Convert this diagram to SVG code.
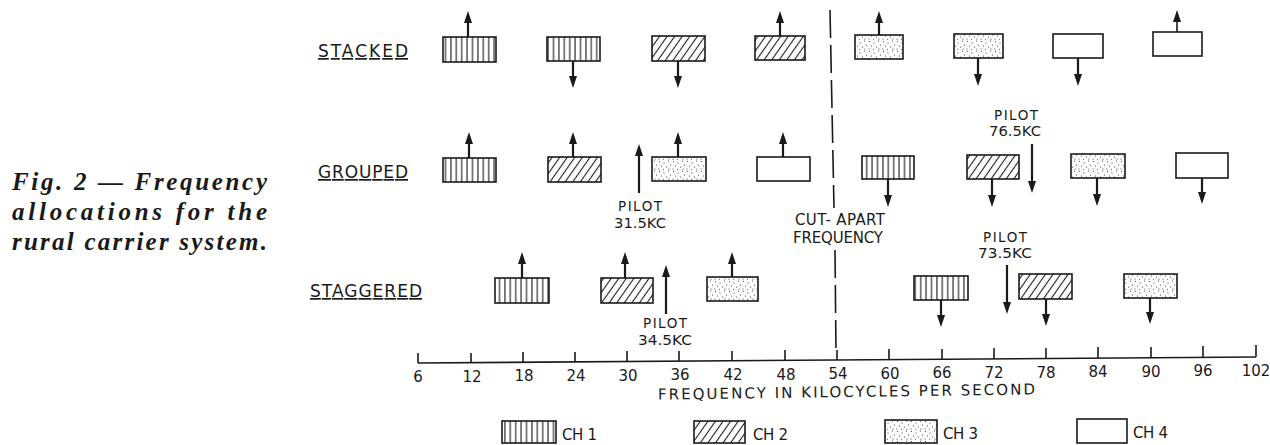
<svg xmlns="http://www.w3.org/2000/svg" width="1270" height="445" viewBox="0 0 1270 445">
<style>
.bg{fill:#fff}
.box{stroke:#1a1a1a;stroke-width:1.6}
.c1{fill:url(#p1)}
.c2{fill:url(#p2)}
.c3{fill:url(#p3)}
.c4{fill:#fff}
.arr{stroke:#1a1a1a;stroke-width:2.2;fill:none;marker-end:url(#ah)}
.dash{stroke:#1a1a1a;stroke-width:1.6;stroke-dasharray:28 7;fill:none}
.ax{stroke:#1a1a1a;stroke-width:1.6;fill:none}
.lbl{font-family:"DejaVu Sans","Liberation Sans",sans-serif;font-size:15px;fill:#1a1a1a}
.pil{font-family:"DejaVu Sans","Liberation Sans",sans-serif;font-size:13.5px;fill:#1a1a1a;text-anchor:middle}
.num{font-family:"DejaVu Sans","Liberation Sans",sans-serif;font-size:15px;fill:#1a1a1a;text-anchor:middle}
.mid{text-anchor:middle}
.row{font-family:"DejaVu Sans","Liberation Sans",sans-serif;font-size:17px;fill:#1a1a1a;text-decoration:underline}
.cap{font-family:"Liberation Serif","Times New Roman",serif;font-style:italic;font-weight:bold;font-size:25px;fill:#1a1a1a}
</style>
<defs>
<pattern id="p1" patternUnits="userSpaceOnUse" width="5.4" height="10">
<rect width="5.4" height="10" fill="#fff"/>
<line x1="2.7" y1="0" x2="2.7" y2="10" stroke="#1a1a1a" stroke-width="1.1"/>
</pattern>
<pattern id="p2" patternUnits="userSpaceOnUse" width="6.2" height="10" patternTransform="rotate(35)">
<rect width="6.2" height="10" fill="#fff"/>
<line x1="3.1" y1="0" x2="3.1" y2="10" stroke="#1a1a1a" stroke-width="1.1"/>
</pattern>
<pattern id="p3" patternUnits="userSpaceOnUse" width="14" height="10">
<rect width="14" height="10" fill="#fff"/>
<g fill="#333">
<circle cx="1.5" cy="1.5" r="0.6"/><circle cx="6" cy="3" r="0.6"/><circle cx="10.5" cy="1" r="0.6"/>
<circle cx="3.5" cy="6" r="0.6"/><circle cx="8.5" cy="7" r="0.6"/><circle cx="12.5" cy="5" r="0.6"/>
<circle cx="1" cy="9" r="0.6"/><circle cx="11" cy="9" r="0.6"/><circle cx="5.5" cy="9.3" r="0.5"/>
</g>
</pattern>
<marker id="ah" markerUnits="userSpaceOnUse" markerWidth="12" markerHeight="8" refX="7" refY="4" orient="auto">
<path d="M0,0 L12,4 L0,8 Z" fill="#1a1a1a"/>
</marker>
</defs>
<rect class="bg" width="1270" height="445"/>

<g id="caption">
<text class="cap" x="12" y="190" textLength="255" lengthAdjust="spacing">Fig. 2 — Frequency</text>
<text class="cap" x="12" y="220" textLength="255" lengthAdjust="spacing">allocations for the</text>
<text class="cap" x="12" y="250" textLength="255" lengthAdjust="spacing">rural carrier system.</text>
</g>

<g id="row-labels">
<text id="lbl-stacked" class="row" x="318" y="57" textLength="90" lengthAdjust="spacing">STACKED</text>
<text id="lbl-grouped" class="row" x="318" y="178" textLength="90" lengthAdjust="spacing">GROUPED</text>
<text id="lbl-staggered" class="row" x="310" y="297" textLength="112" lengthAdjust="spacing">STAGGERED</text>
</g>

<g id="stacked">
<rect id="s1" class="box c1" x="443" y="37" width="53" height="25"/>
<rect id="s2" class="box c1" x="547" y="37" width="53" height="24"/>
<rect id="s3" class="box c2" x="652" y="36" width="53" height="25"/>
<rect id="s4" class="box c2" x="755" y="36" width="50" height="24"/>
<rect id="s5" class="box c3" x="855" y="35" width="48" height="24"/>
<rect id="s6" class="box c3" x="954" y="34" width="49" height="24"/>
<rect id="s7" class="box c4" x="1053" y="34" width="50" height="24"/>
<rect id="s8" class="box c4" x="1153" y="32" width="49" height="24"/>
</g>

<g id="grouped">
<rect id="g1" class="box c1" x="443" y="158" width="53" height="24"/>
<rect id="g2" class="box c2" x="548" y="157" width="53" height="25"/>
<rect id="g3" class="box c3" x="652" y="157" width="54" height="24"/>
<rect id="g4" class="box c4" x="757" y="157" width="53" height="24"/>
<rect id="g5" class="box c1" x="862" y="156" width="52" height="23"/>
<rect id="g6" class="box c2" x="967" y="155" width="52" height="24"/>
<rect id="g7" class="box c3" x="1071" y="154" width="54" height="24"/>
<rect id="g8" class="box c4" x="1176" y="153" width="52" height="25"/>
<g id="pilot-31-5">
<text class="pil" x="640" y="211" textLength="44" lengthAdjust="spacing">PILOT</text>
<text class="pil" x="640" y="228" textLength="52" lengthAdjust="spacingAndGlyphs">31.5KC</text>
</g>
<g id="pilot-76-5">
<text class="pil" x="1016" y="120" textLength="44" lengthAdjust="spacing">PILOT</text>
<text class="pil" x="1015" y="136" textLength="52" lengthAdjust="spacingAndGlyphs">76.5KC</text>
</g>
</g>

<g id="staggered">
<rect id="t1" class="box c1" x="495" y="278" width="54" height="25"/>
<rect id="t2" class="box c2" x="601" y="278" width="52" height="25"/>
<rect id="t3" class="box c3" x="707" y="277" width="51" height="24"/>
<rect id="t4" class="box c1" x="914" y="276" width="54" height="24"/>
<rect id="t5" class="box c2" x="1019" y="274" width="53" height="25"/>
<rect id="t6" class="box c3" x="1124" y="274" width="53" height="24"/>
<g id="pilot-34-5">
<text class="pil" x="665" y="328" textLength="44" lengthAdjust="spacing">PILOT</text>
<text class="pil" x="665" y="345" textLength="54" lengthAdjust="spacingAndGlyphs">34.5KC</text>
</g>
<g id="pilot-73-5">
<text class="pil" x="1005" y="242" textLength="44" lengthAdjust="spacing">PILOT</text>
<text class="pil" x="1005" y="258" textLength="54" lengthAdjust="spacingAndGlyphs">73.5KC</text>
</g>
</g>

<g id="cut-apart">
<path class="dash" d="M830,10 L834,208"/>
<path class="dash" d="M835,250 L836,352"/>
<text class="lbl mid" x="840" y="225" textLength="90" lengthAdjust="spacing">CUT- APART</text>
<text class="lbl mid" x="838" y="243" textLength="90" lengthAdjust="spacing">FREQUENCY</text>
</g>

<g id="connectors">
<line class="arr" x1="468" y1="37" x2="468" y2="16"/>
<line class="arr" x1="573" y1="61" x2="573" y2="83"/>
<line class="arr" x1="678" y1="61" x2="678" y2="83"/>
<line class="arr" x1="780" y1="36" x2="780" y2="16"/>
<line class="arr" x1="879" y1="35" x2="879" y2="16"/>
<line class="arr" x1="978" y1="58" x2="978" y2="81"/>
<line class="arr" x1="1078" y1="58" x2="1078" y2="81"/>
<line class="arr" x1="1177" y1="32" x2="1177" y2="15" style="stroke-width:1.6"/>
<line class="arr" x1="469" y1="158" x2="469" y2="137"/>
<line class="arr" x1="573" y1="157" x2="573" y2="137"/>
<line class="arr" x1="678" y1="157" x2="678" y2="137"/>
<line class="arr" x1="783" y1="157" x2="783" y2="137"/>
<line class="arr" x1="888" y1="179" x2="888" y2="202"/>
<line class="arr" x1="992" y1="179" x2="992" y2="202"/>
<line class="arr" x1="1097" y1="178" x2="1097" y2="201"/>
<line class="arr" x1="1202" y1="178" x2="1202" y2="199"/>
<line class="arr" x1="639" y1="193" x2="639" y2="149"/>
<line class="arr" x1="1032" y1="144" x2="1032" y2="188"/>
<line class="arr" x1="522" y1="278" x2="522" y2="257"/>
<line class="arr" x1="625" y1="278" x2="625" y2="257"/>
<line class="arr" x1="732" y1="277" x2="732" y2="257"/>
<line class="arr" x1="941" y1="300" x2="941" y2="322"/>
<line class="arr" x1="1046" y1="299" x2="1046" y2="321"/>
<line class="arr" x1="1150" y1="298" x2="1150" y2="319"/>
<line class="arr" x1="666" y1="314" x2="666" y2="270"/>
<line class="arr" x1="1007" y1="265" x2="1007" y2="309"/>
</g>

<g id="axis">
<line class="ax" x1="418" y1="363" x2="1256" y2="357"/>
<g class="ax">
<line x1="418" y1="353" x2="418" y2="363"/>
<line x1="471" y1="353" x2="471" y2="362.6"/>
<line x1="523" y1="352" x2="523" y2="362.2"/>
<line x1="575" y1="352" x2="575" y2="361.9"/>
<line x1="627" y1="351" x2="627" y2="361.5"/>
<line x1="679" y1="351" x2="679" y2="361.1"/>
<line x1="732" y1="351" x2="732" y2="360.8"/>
<line x1="785" y1="350" x2="785" y2="360.4"/>
<line x1="837" y1="350" x2="837" y2="360"/>
<line x1="889" y1="349" x2="889" y2="359.6"/>
<line x1="942" y1="349" x2="942" y2="359.2"/>
<line x1="994" y1="348" x2="994" y2="358.9"/>
<line x1="1046" y1="348" x2="1046" y2="358.5"/>
<line x1="1098" y1="347" x2="1098" y2="358.1"/>
<line x1="1151" y1="347" x2="1151" y2="357.8"/>
<line x1="1203" y1="346" x2="1203" y2="357.4"/>
<line x1="1256" y1="345" x2="1256" y2="357"/>
</g>
<g>
<text class="num" x="418" y="382">6</text>
<text class="num" x="472" y="382">12</text>
<text class="num" x="524" y="381">18</text>
<text class="num" x="576" y="381">24</text>
<text class="num" x="628" y="381">30</text>
<text class="num" x="680" y="380">36</text>
<text class="num" x="733" y="380">42</text>
<text class="num" x="786" y="380">48</text>
<text class="num" x="838" y="379">54</text>
<text class="num" x="890" y="379">60</text>
<text class="num" x="942" y="378">66</text>
<text class="num" x="994" y="378">72</text>
<text class="num" x="1046" y="378">78</text>
<text class="num" x="1098" y="377">84</text>
<text class="num" x="1151" y="377">90</text>
<text class="num" x="1203" y="376">96</text>
<text class="num" x="1256" y="376">102</text>
</g>
<text class="lbl" x="658" y="397" textLength="377" lengthAdjust="spacing" transform="rotate(-0.8 846 394)">FREQUENCY IN KILOCYCLES PER SECOND</text>
</g>

<g id="legend">
<g id="leg-ch1"><rect class="box c1" x="502" y="421" width="54" height="22"/><text class="lbl" x="562" y="440" textLength="35" lengthAdjust="spacing">CH 1</text></g>
<g id="leg-ch2"><rect class="box c2" x="694" y="421" width="51" height="22"/><text class="lbl" x="753" y="440" textLength="35" lengthAdjust="spacing">CH 2</text></g>
<g id="leg-ch3"><rect class="box c3" x="885" y="420" width="52" height="23"/><text class="lbl" x="943" y="439" textLength="35" lengthAdjust="spacing">CH 3</text></g>
<g id="leg-ch4"><rect class="box c4" x="1077" y="419" width="50" height="24"/><text class="lbl" x="1133" y="438" textLength="35" lengthAdjust="spacing">CH 4</text></g>
</g>
</svg>
